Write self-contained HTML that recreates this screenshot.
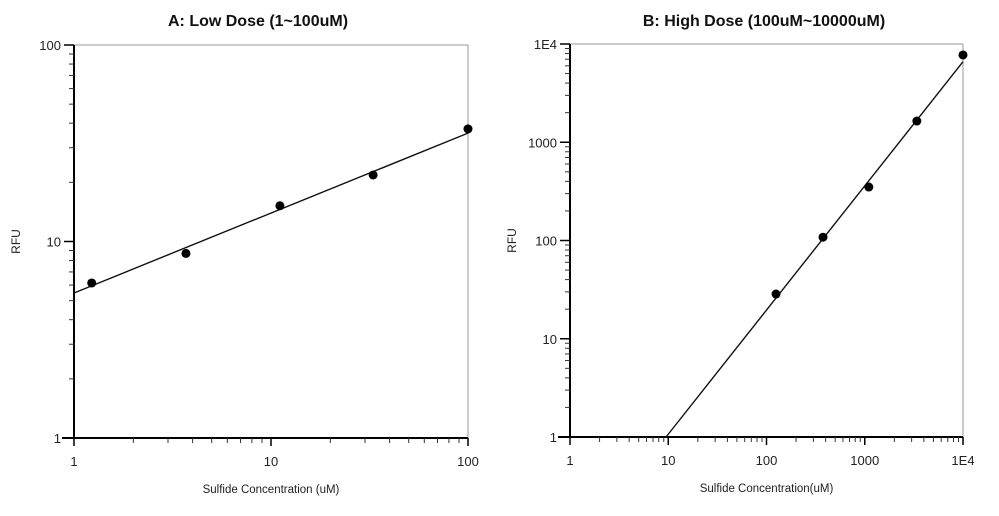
<!DOCTYPE html>
<html><head><meta charset="utf-8"><style>
html,body{margin:0;padding:0;background:#fff;width:999px;height:516px;overflow:hidden}
svg{display:block;font-family:"Liberation Sans",sans-serif}
</style></head><body>
<svg id="c" width="999" height="516" viewBox="0 0 999 516" xmlns="http://www.w3.org/2000/svg"></svg>
<script>
// Panel A data
const aX = [1.23, 3.7, 11.1, 33, 100];
const aY = [6.15, 8.7, 15.2, 21.8, 37.4];
const aFitX = [1, 100];
const aFitY = [5.47, 35.6];
const aXTicks = ["1", "10", "100"];
const aYTicks = ["1", "10", "100"];
// Panel B data
const bX = [125, 376, 1100, 3390, 10000];
const bY = [28.5, 108, 350, 1645, 7730];
const bFitX = [9.5, 10000];
const bFitY = [1, 6600];
const bXTicks = ["1", "10", "100", "1000", "1E4"];
const bYTicks = ["1", "10", "100", "1000", "1E4"];

const svg = document.getElementById('c');
const NS = 'http://www.w3.org/2000/svg';
function mk(tag, attrs, parent){const e=document.createElementNS(NS,tag);for(const k in attrs)e.setAttribute(k,attrs[k]);(parent||svg).appendChild(e);return e;}

function panel(id, L, R, T, B, decades, xs, ys, fx, fy, xt, yt, title, xlabel, titleX){
  const g = mk('g', {});
  
  
  const xS = v => L + Math.log10(v) / decades * (R - L);
  const yS = v => B - Math.log10(v) / decades * (B - T);
  const t = mk('text', {x: titleX, y: 26, 'text-anchor': 'middle', 'font-size': 16, 'font-weight': 'bold', fill: '#111'}, g);
  t.textContent = title;
  
  
  const fr = mk('rect', {x: L, y: T, width: R - L, height: B - T, fill: 'none', stroke: '#999', 'stroke-width': 1}, g);
  
  
  const ya = mk('line', {x1: L, y1: T, x2: L, y2: B + 1, stroke: '#000', 'stroke-width': 2}, g);
  
  
  const xa = mk('line', {x1: L - 12, y1: B, x2: R, y2: B, stroke: '#000', 'stroke-width': 2}, g);
  
  
  for (let d = 0; d <= decades; d++) {
    const xp = L + d / decades * (R - L), yp = B - d / decades * (B - T);
    mk('line', {x1: xp, y1: B, x2: xp, y2: B + 8, stroke: '#000', 'stroke-width': 1.5}, g);
    mk('line', {x1: L, y1: yp, x2: L - 10, y2: yp, stroke: '#000', 'stroke-width': 1.5}, g);
    const xl = mk('text', {x: xp, y: B + 28, 'text-anchor': 'middle', 'font-size': 13, fill: '#222'}, g);
    xl.textContent = xt[d];
    
    
    const yl = mk('text', {x: L - 13, y: yp + 5, 'text-anchor': 'end', 'font-size': 13, fill: '#222'}, g);
    yl.textContent = yt[d];
    
    
    if (d < decades) for (let m = 2; m <= 9; m++) {
      const off = Math.log10(m) / decades;
      const mx = L + (d / decades + off) * (R - L), my = B - (d / decades + off) * (B - T);
      mk('line', {x1: mx, y1: B, x2: mx, y2: B + 5, stroke: '#333', 'stroke-width': 1}, g);
      mk('line', {x1: L, y1: my, x2: L - 5, y2: my, stroke: '#333', 'stroke-width': 1}, g);
    }
  }
  const xt2 = mk('text', {x: (L + R) / 2, y: B + 55, 'text-anchor': 'middle', 'font-size': 11.5, fill: '#222'}, g);
  xt2.textContent = xlabel;
  
  
  const yt2 = mk('text', {x: 0, y: 0, 'text-anchor': 'middle', 'font-size': 12, fill: '#222', transform: `translate(${L - 54},${(T + B) / 2}) rotate(-90)`}, g);
  yt2.textContent = 'RFU';
  
  
  const fl = mk('line', {x1: xS(fx[0]), y1: yS(fy[0]), x2: xS(fx[1]), y2: yS(fy[1]), stroke: '#111', 'stroke-width': 1.4}, g);
  
  
  for (let i = 0; i < xs.length; i++) {
    const c = mk('circle', {cx: xS(xs[i]), cy: yS(ys[i]), r: 4.5, fill: '#000'}, g);
    
    
  }
}
panel('panel-a-low-dose', 74, 468, 45, 438, 2, aX, aY, aFitX, aFitY, aXTicks, aYTicks, 'A: Low Dose (1~100uM)', 'Sulfide Concentration (uM)', 258);
panel('panel-b-high-dose', 570, 963, 44, 437, 4, bX, bY, bFitX, bFitY, bXTicks, bYTicks, 'B: High Dose (100uM~10000uM)', 'Sulfide Concentration(uM)', 764);
</script>
</body></html>
